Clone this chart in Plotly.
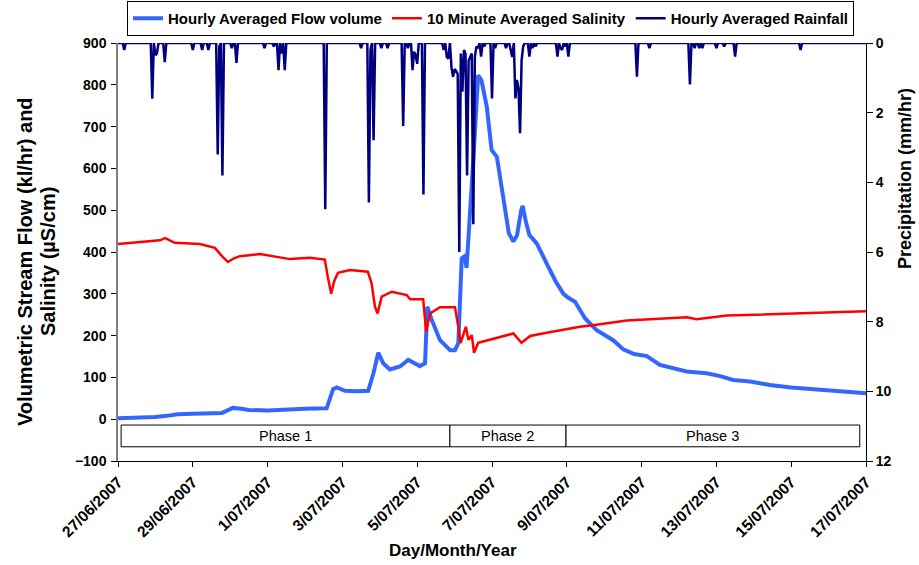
import pandas as pd
import plotly.graph_objects as go

START = pd.Timestamp("2007-06-27 00:00")

# Hourly averaged flow volume (kl/hr); time in days since 27/06/2007 00:00
flow_days = [0, 0.5, 1.0, 1.3, 1.6, 2.0, 2.5, 2.78, 2.9, 3.07, 3.3, 3.5, 4.0, 4.3, 4.55, 5.0,
             5.58, 5.68, 5.75, 5.85, 6.07, 6.4, 6.69, 6.83, 6.96, 7.09, 7.27, 7.54, 7.76,
             8.07, 8.21, 8.27, 8.39, 8.61, 8.88, 9.01, 9.10, 9.19, 9.27, 9.32, 9.41, 9.5,
             9.63, 9.72, 9.86, 9.99, 10.13, 10.3, 10.45, 10.57, 10.67, 10.78, 10.82, 10.9,
             11.0, 11.06, 11.2, 11.46, 11.7, 11.91, 12.05, 12.22, 12.49, 12.8, 13.24, 13.51,
             13.8, 14.14, 14.49, 15.2, 15.74, 16.1, 16.45, 16.9, 17.43, 18.0, 18.95, 19.97, 20.0]
flow_vals = [2, 3, 5, 8, 12, 13, 14, 15, 20, 27, 25, 22, 21, 22, 25, 25,
             26, 50, 72, 76, 68, 67, 68, 110, 159, 134, 119, 126, 142,
             127, 134, 269, 237, 189, 165, 165, 182, 385, 390, 362, 480, 620,
             823, 810, 748, 644, 628, 524, 445, 425, 440, 500, 510, 475,
             440, 435, 420, 373, 330, 300, 290, 281, 241, 213, 189, 167,
             156, 151, 130, 114, 110, 103, 94, 90, 82, 76, 70, 62, 62]

# 10 minute averaged salinity (uS/cm)
sal_days = [0, 0.86, 1.12, 1.26, 1.52, 2.19, 2.46, 2.59, 2.78, 2.94, 3.10, 3.26, 3.80, 4.33,
            4.60, 5.13, 5.53, 5.61, 5.70, 5.78, 5.88, 6.20, 6.68, 6.78, 6.87, 6.94, 7.05,
            7.32, 7.72, 7.81, 8.16, 8.24, 8.34, 8.61, 9.01, 9.10, 9.16, 9.30, 9.37, 9.46,
            9.52, 9.63, 9.95, 10.57, 10.79, 11.02, 11.46, 11.82, 12.35, 12.70, 13.60, 15.21,
            15.47, 16.28, 18.05, 20.0]
sal_vals = [419, 426, 428, 433, 422, 419, 414, 410, 390, 376, 385, 390, 395, 388,
            383, 386, 382, 340, 300, 330, 350, 357, 353, 325, 269, 253, 293,
            305, 297, 287, 287, 209, 253, 268, 268, 221, 182, 221, 190, 201,
            159, 183, 191, 205, 183, 199, 207, 213, 221, 225, 236, 244,
            239, 248, 253, 258]

# Hourly averaged rainfall (mm/hr): hours since start with non-zero rain
rain_hours = [4, 22, 24, 25, 30, 48, 54, 58, 64, 65, 67, 73, 76, 94, 100, 103, 105, 107,
              133, 156, 161, 162, 164, 169, 173, 183, 186, 189, 190, 191, 192, 196,
              209, 211, 212, 214, 215, 216, 217, 218, 219, 220, 221, 222, 223, 224, 225,
              226, 227, 228, 229, 230, 231, 233, 235, 240, 242, 249, 252, 253, 255, 256,
              257, 258, 259, 260, 264, 266, 268, 282, 284, 285, 287, 289, 333, 341, 367,
              370, 373, 375, 384, 389, 396, 438]
rain_vals = [0.2, 1.6, 0.35, 0.3, 0.55, 0.2, 0.2, 0.2, 3.2, 0.1, 3.8, 0.15, 0.57, 0.15, 0.1, 0.78, 0.3, 0.78,
             4.77, 0.15, 4.58, 0.2, 2.79, 0.15, 0.15, 2.38, 0.15, 0.78, 0.25, 0.35, 0.6, 4.35,
             0.2, 0.4, 0.45, 0.7, 0.97, 0.75, 0.8, 0.9, 6.0, 0.3, 1.4, 0.2, 0.3, 3.8, 0.5,
             0.4, 0.3, 5.2, 0.4, 0.1, 0.15, 0.39, 0.1, 1.59, 0.15, 0.15, 0.2, 0.4, 1.59, 1.06,
             1.3, 2.59, 0.5, 0.1, 0.39, 0.15, 0.1, 0.39, 0.15, 0.2, 0.1, 0.39, 0.97, 0.15, 1.19,
             0.15, 0.15, 0.15, 0.15, 0.1, 0.39, 0.2]
N_HOURS = 480

tick_dates = ["2007-06-27", "2007-06-29", "2007-07-01", "2007-07-03", "2007-07-05", "2007-07-07",
              "2007-07-09", "2007-07-11", "2007-07-13", "2007-07-15", "2007-07-17"]
tick_labels = ["27/06/2007", "29/06/2007", "1/07/2007", "3/07/2007", "5/07/2007", "7/07/2007",
               "9/07/2007", "11/07/2007", "13/07/2007", "15/07/2007", "17/07/2007"]

phase_names = ["Phase 1", "Phase 2", "Phase 3"]
phase_start_h = [2, 213, 287.5]
phase_end_h = [213, 287.5, 476]
PHASE_Y = (-66, -14)

FONT = "Liberation Sans, Arial, sans-serif"
W, H = 919, 565
PLOT_L, PLOT_R, PLOT_T, PLOT_B = 118, 866, 43, 461   # pixel box of the plot area
PLOT_W = PLOT_R - PLOT_L
PLOT_H = PLOT_B - PLOT_T


def px_x(px):
    return (px - PLOT_L) / PLOT_W


def px_y(py):
    return (PLOT_B - py) / PLOT_H


flow_x = START + pd.to_timedelta(flow_days, unit="D")
sal_x = START + pd.to_timedelta(sal_days, unit="D")
rain_map = dict(zip(rain_hours, rain_vals))
rain_h = list(range(N_HOURS + 1))
rain_x = START + pd.to_timedelta(rain_h, unit="h")
rain_y = [rain_map.get(h, 0.0) for h in rain_h]

fig = go.Figure()
fig.add_trace(go.Scatter(x=flow_x, y=flow_vals, mode="lines", name="Hourly Averaged Flow volume",
                         line=dict(color="#3366FF", width=4)))
fig.add_trace(go.Scatter(x=sal_x, y=sal_vals, mode="lines", name="10 Minute Averaged Salinity",
                         line=dict(color="#FF0000", width=2.5)))
fig.add_trace(go.Scatter(x=rain_x, y=rain_y, mode="lines", name="Hourly Averaged Rainfall",
                         line=dict(color="#000080", width=2.5), yaxis="y2"))

shapes = []
annotations = []
for name, s, e in zip(phase_names, phase_start_h, phase_end_h):
    x0 = START + pd.Timedelta(hours=s)
    x1 = START + pd.Timedelta(hours=e)
    shapes.append(dict(type="rect", xref="x", yref="y", x0=x0, x1=x1, y0=PHASE_Y[0], y1=PHASE_Y[1],
                       line=dict(color="black", width=1), fillcolor="white", layer="above"))
    annotations.append(dict(x=x0 + (x1 - x0) / 2, y=sum(PHASE_Y) / 2, xref="x", yref="y",
                            text=name, showarrow=False, font=dict(family=FONT, size=14.5, color="black")))

bold = lambda size: dict(family=FONT, size=size, color="black", weight="bold")
# axis titles
annotations += [
    dict(x=px_x(453), y=px_y(550), xref="paper", yref="paper", xanchor="center", yanchor="middle",
         text="Day/Month/Year", showarrow=False, font=bold(17)),
    dict(x=px_x(25), y=px_y(262), xref="paper", yref="paper", xanchor="center", yanchor="middle",
         text="Volumetric Stream Flow (kl/hr) and", textangle=-90, showarrow=False, font=bold(20)),
    dict(x=px_x(48), y=px_y(262), xref="paper", yref="paper", xanchor="center", yanchor="middle",
         text="Salinity (µS/cm)", textangle=-90, showarrow=False, font=bold(20)),
    dict(x=px_x(905), y=px_y(179), xref="paper", yref="paper", xanchor="center", yanchor="middle",
         text="Precipitation (mm/hr)", textangle=-90, showarrow=False, font=bold(18)),
]

fig.update_layout(
    width=W, height=H,
    margin=dict(l=PLOT_L, r=W - PLOT_R, t=PLOT_T, b=H - PLOT_B, autoexpand=False),
    paper_bgcolor="white", plot_bgcolor="white",
    font=dict(family=FONT, color="black"),
    showlegend=True,
    legend=dict(orientation="h", x=0.498, xanchor="center", y=px_y(1), yanchor="top",
                bordercolor="black", borderwidth=1, bgcolor="white",
                font=bold(15), itemwidth=30, tracegroupgap=0),
    xaxis=dict(type="date", range=[START, START + pd.Timedelta(days=20)],
               tickvals=pd.to_datetime(tick_dates), ticktext=tick_labels, tickangle=-45,
               ticks="outside", ticklen=5, tickcolor="black", showline=True, linecolor="black",
               linewidth=1, showgrid=False, zeroline=False, automargin=False,
               tickfont=bold(15.5)),
    yaxis=dict(range=[-100, 900], dtick=100, ticks="outside", ticklen=5, tickcolor="black",
               showline=True, linecolor="#808080", linewidth=1.5, showgrid=False, zeroline=False,
               automargin=False, ticklabelstandoff=2, tickfont=bold(14)),
    yaxis2=dict(range=[12, 0], dtick=2, overlaying="y", side="right", ticks="outside", ticklen=6,
                tickcolor="black", showline=True, linecolor="black", linewidth=1, showgrid=False,
                zeroline=False, automargin=False, tickfont=bold(14)),
    shapes=shapes,
    annotations=annotations,
)

fig.write_html("out.html", post_script="document.body.style.margin='0';",
               config={"displayModeBar": False})
